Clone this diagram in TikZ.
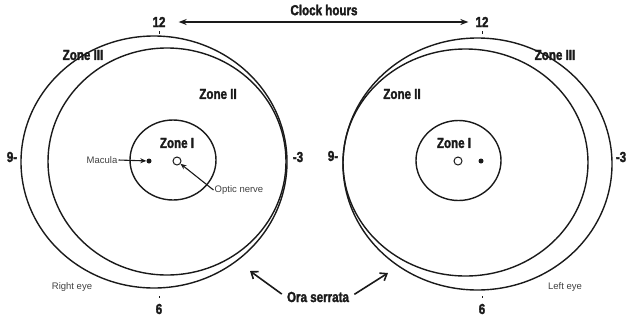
\documentclass[tikz,border=0pt]{standalone}
\usepackage{fontspec}
\setmainfont{Liberation Sans}
\newfontfamily\zonefont[FakeStretch=0.8,FakeBold=2]{Liberation Sans Bold}
\usetikzlibrary{arrows.meta,positioning}
\definecolor{Ink}{HTML}{1A1A1A}
\definecolor{Faint}{HTML}{404040}

\begin{document}
\begin{tikzpicture}[x=1pt,y=-1pt,
  zone/.style={font=\zonefont\fontsize{14.5}{14.5}\selectfont,text=Ink,inner sep=1pt},
  small/.style={font=\fontsize{9.5}{9.5}\selectfont,text=Faint,inner sep=1pt},
  rim/.style={draw=Ink,line width=1.4pt},
  spot/.style={circle,fill=Ink,inner sep=0pt,minimum size=5pt},
  disc/.style={circle,draw=Ink,line width=1pt,fill=white,inner sep=0pt,minimum size=8pt},
  pointer/.style={draw=Ink,line width=1.1pt,-{Stealth[length=6pt,width=5pt]}},
  barb/.style={draw=Ink,line width=1.6pt,-{Straight Barb[length=6pt,width=9pt]}}]
\useasboundingbox (0,0) rectangle (628,322);
% the two eyes: ora serrata, zone II border, zone I border
\foreach \cx/\cy/\rx/\ry in {154/162/133/126,167/161.5/119/113.5,173/160/43/40,
    477.5/164/134.5/126,465.5/162.5/122.5/113.5,458.5/160.5/42.5/40}
  \draw[rim] (\cx,\cy) ellipse [x radius=\rx, y radius=\ry];
% clock marks
\foreach \x in {159,482} {\draw[Ink,line width=1pt] (\x,31) -- (\x,34); \draw[Ink,line width=1pt] (\x,296) -- (\x,298);}
% right eye
\node[zone] (re12) at (159,22) {12};
\node[zone] (re6) at (159,309) {6};
\node[zone] (re9) at (12,157) {9-};
\node[zone] (re3) at (298,157) {-3};
\node[zone] (rez3) at (83,55) {Zone III};
\node[zone] (rez2) at (218,94) {Zone II};
\node[zone] (rez1) at (177,143) {Zone I};
\node[spot] (remac) at (149,161) {};
\node[disc] (reopt) at (177,161) {};
\node[small] (maclabel) at (102,160) {Macula};
\node[small] (optlabel) at (239,190) {Optic nerve};
\node[small] (reeye) at (72,287) {Right eye};
\draw[pointer] (maclabel.east) -- (remac);
\draw[pointer] (optlabel.west) -- (reopt);
% left eye
\node[zone] (le12) at (482,22) {12};
\node[zone] (le6) at (482,309) {6};
\node[zone] (le9) at (333,156) {9-};
\node[zone] (le3) at (621,157) {-3};
\node[zone] (lez3) at (555,55) {Zone III};
\node[zone] (lez2) at (402,94) {Zone II};
\node[zone] (lez1) at (454,143) {Zone I};
\node[disc] (leopt) at (458,161) {};
\node[spot] (lemac) at (481,161) {};
\node[small] (leeye) at (565,287) {Left eye};
% clock hours
\node[zone] (clock) at (324,10) {Clock hours};
\draw[Ink,line width=1.6pt,{Stealth[length=8pt,width=6pt]}-{Stealth[length=8pt,width=6pt]},shorten <=12pt,shorten >=6pt] (re12.east) -- (le12.west);
% ora serrata
\node[zone] (ora) at (318,297) {Ora serrata};
\coordinate (oraL) at (250,271);
\coordinate (oraR) at (388,273);
\draw[barb,shorten <=5pt] (ora.west) -- (oraL);
\draw[barb,shorten <=5pt] (ora.east) -- (oraR);
\end{tikzpicture}
\end{document}
